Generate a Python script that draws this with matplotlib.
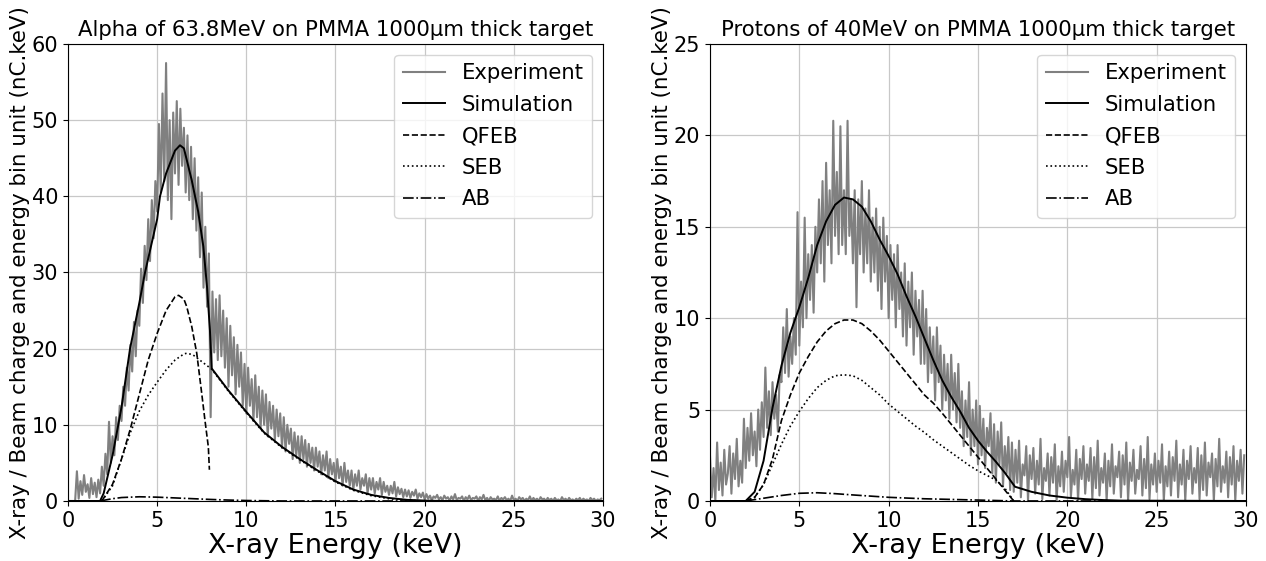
import numpy as np
import matplotlib
matplotlib.use("Agg")
import matplotlib.pyplot as plt

ALPHA_EXP = [
    0.0, 0.0, 0.0, 0.0, 0.0, 3.9, 0.3, 2.6, 0.8, 3.4,
    1.2, 2.2, 0.4, 3.0, 0.9, 2.4, 0.5, 2.8, 1.0, 4.5,
    2.0, 6.2, 3.5, 10.4, 5.0, 8.5, 6.0, 11.0, 8.0, 12.5,
    10.5, 15.0, 12.5, 17.5, 14.5, 20.5, 17.0, 23.5, 19.0, 25.0,
    23.0, 30.5, 26.0, 33.5, 29.0, 37.0, 31.5, 39.5, 34.5, 42.0,
    38.0, 49.5, 40.5, 53.5, 42.0, 57.5, 39.5, 50.0, 37.0, 51.0,
    43.0, 52.5, 41.5, 51.5, 44.0, 49.0, 40.5, 48.0, 39.5, 46.5,
    37.0, 45.0, 35.5, 42.5, 32.0, 40.5, 28.0, 36.0, 25.5, 32.5,
    11.0, 27.5, 19.5, 26.5, 18.5, 27.0, 19.0, 25.0, 17.5, 24.0,
    15.0, 23.0, 16.5, 21.5, 14.0, 20.5, 15.0, 19.5, 12.5, 18.0,
    11.5, 17.5, 12.5, 16.0, 10.5, 16.5, 11.0, 15.0, 9.5, 14.5,
    10.0, 14.0, 8.5, 13.0, 9.5, 12.5, 8.0, 12.0, 8.5, 11.5,
    7.0, 11.0, 6.5, 10.0, 7.5, 9.5, 5.5, 9.0, 6.0, 8.5,
    5.0, 8.5, 5.5, 8.0, 4.5, 7.5, 5.0, 7.0, 4.0, 7.0,
    4.5, 6.5, 3.5, 6.0, 4.0, 6.5, 3.0, 5.5, 3.5, 5.0,
    2.5, 5.5, 3.0, 4.5, 2.0, 5.0, 2.5, 4.0, 2.0, 4.0,
    1.5, 3.5, 2.0, 4.0, 1.5, 3.0, 2.0, 3.5, 1.0, 3.0,
    1.5, 3.0, 1.0, 2.5, 1.5, 3.0, 0.8, 2.5, 1.2, 2.0,
    0.8, 2.0, 1.0, 2.5, 0.6, 1.8, 0.9, 1.6, 0.5, 1.5,
    0.6, 1.4, 0.4, 1.2, 0.7, 1.5, 0.3, 1.0, 0.5, 1.1,
    0.2, 0.9, 0.3, 0.7, 0.1, 0.6, 0.4, 0.8, 0.2, 0.5,
    0.1, 0.7, 0.3, 0.5, 0.0, 0.6, 0.2, 0.9, 0.1, 0.4,
    0.3, 0.6, 0.0, 0.5, 0.2, 0.7, 0.1, 0.4, 0.3, 0.6,
    0.0, 0.5, 0.2, 0.8, 0.1, 0.4, 0.0, 0.5, 0.2, 0.3,
    0.1, 0.6, 0.0, 0.4, 0.2, 0.5, 0.1, 0.3, 0.0, 0.7,
    0.1, 0.3, 0.0, 0.5, 0.2, 0.4, 0.0, 0.3, 0.1, 0.6,
    0.0, 0.4, 0.1, 0.3, 0.0, 0.5, 0.2, 0.3, 0.0, 0.4,
    0.1, 0.3, 0.0, 0.4, 0.1, 0.2, 0.0, 0.5, 0.1, 0.3,
    0.0, 0.4, 0.1, 0.2, 0.0, 0.3, 0.1, 0.4, 0.0, 0.3,
    0.1, 0.2, 0.0, 0.4, 0.1, 0.3, 0.0, 0.2, 0.1, 0.3,
]
PROTON_EXP = [
    2.5, 0.2, 1.8, 0.0, 3.2, 0.6, 2.1, 0.3, 2.8, 0.9,
    1.5, 3.0, 0.4, 2.6, 1.2, 3.4, 0.8, 2.2, 1.0, 4.5,
    1.8, 4.0, 2.2, 4.8, 2.5, 3.8, 1.9, 5.0, 2.8, 5.4,
    3.5, 7.3, 4.0, 6.0, 3.6, 6.5, 4.5, 5.8, 3.8, 6.9,
    6.5, 9.5, 7.0, 10.5, 6.8, 9.0, 7.5, 10.0, 8.0, 15.8,
    8.5, 12.0, 9.5, 15.5, 10.0, 13.5, 11.0, 14.0, 10.3, 15.0,
    12.5, 16.5, 13.0, 17.5, 12.0, 18.5, 14.0, 17.0, 13.0, 20.8,
    14.5, 18.0, 13.5, 20.5, 14.0, 17.0, 13.5, 20.8, 14.5, 16.5,
    13.0, 17.0, 10.6, 16.5, 13.5, 17.5, 12.5, 16.0, 13.0, 17.0,
    12.0, 15.5, 12.5, 16.0, 11.5, 15.0, 10.5, 15.5, 12.0, 14.5,
    10.0, 14.0, 11.0, 13.5, 9.5, 14.0, 10.5, 12.5, 9.0, 13.0,
    8.5, 12.0, 9.5, 12.5, 8.0, 11.5, 9.0, 11.0, 7.5, 11.5,
    7.5, 10.5, 6.5, 9.5, 7.0, 9.0, 5.5, 9.5, 6.5, 8.5,
    5.0, 8.0, 5.5, 7.5, 4.5, 8.0, 5.0, 7.0, 4.3, 7.5,
    4.0, 6.0, 3.0, 5.5, 3.5, 6.5, 2.5, 5.0, 3.0, 5.5,
    2.0, 5.2, 2.5, 4.5, 1.8, 4.0, 3.0, 4.8, 1.5, 4.2,
    1.0, 3.8, 2.0, 4.3, 0.8, 3.0, 1.5, 3.5, 0.6, 3.2,
    0.5, 2.8, 1.0, 3.3, 0.2, 2.0, 1.4, 3.0, 0.0, 2.5,
    1.2, 2.9, 0.4, 2.2, 0.9, 3.4, 0.1, 1.8, 1.1, 2.6,
    0.3, 2.4, 1.0, 3.1, 0.0, 1.9, 0.8, 2.7, 0.5, 2.2,
    1.3, 3.5, 0.2, 1.7, 0.9, 2.8, 0.0, 2.3, 1.2, 3.0,
    0.4, 2.0, 1.1, 2.9, 0.1, 2.4, 0.7, 3.3, 0.3, 1.8,
    1.0, 2.6, 0.0, 2.2, 0.8, 3.1, 0.4, 1.9, 1.3, 2.7,
    0.2, 2.5, 0.9, 3.2, 0.0, 2.1, 1.1, 2.8, 0.4, 1.7,
    1.2, 3.0, 0.3, 2.3, 0.7, 3.5, 0.1, 2.0, 0.9, 2.6,
    0.5, 2.2, 1.0, 3.1, 0.0, 1.9, 0.8, 2.7, 0.3, 2.4,
    1.1, 3.3, 0.2, 2.0, 0.9, 2.8, 0.0, 2.2, 1.2, 3.0,
    0.4, 1.8, 1.0, 2.9, 0.1, 2.5, 0.6, 3.2, 0.3, 2.1,
    1.3, 2.6, 0.0, 2.3, 0.8, 3.4, 0.5, 1.9, 1.0, 2.7,
    0.2, 2.4, 0.9, 3.0, 0.0, 2.2, 1.1, 2.8, 0.4, 2.5,
]
EXP_E = np.arange(len(ALPHA_EXP)) * 0.1

# ---- alpha 63.8 MeV, model curves
A_SIM_E = [0, 1.8, 2.0, 2.5, 2.82, 3.0, 3.48, 4.0, 4.32, 5.0, 5.16, 5.5, 6.0, 6.28, 6.5,
           6.94, 7.3, 7.59, 7.8, 7.96, 8.06, 9, 10, 11, 12, 13, 14, 15, 16, 17, 18,
           19, 20, 21, 30]
A_SIM = [0, 0, 1.0, 6.0, 10.0, 12.3, 20.0, 26.0, 30.0, 37.0, 40.0, 43.0, 46.0, 46.7, 46.3,
         42.1, 38.0, 33.4, 28.0, 22.4, 17.4, 14.5, 11.7, 9.0, 7.1, 5.5, 4.0, 2.6, 1.5, 0.8, 0.4,
         0.15, 0.05, 0.0, 0.0]
A_QFEB_E = [1.9, 2.5, 3.0, 3.5, 4.0, 4.5, 5.0, 5.5, 6.0, 6.2, 6.5, 6.66, 6.94, 7.22, 7.5,
            7.68, 7.87, 7.93]
A_QFEB = [0, 2.2, 5.5, 9.5, 14.0, 18.5, 22.0, 25.0, 26.8, 27.0, 26.5, 25.5, 22.9, 19.4, 14.1,
          10.6, 7.1, 4.1]
A_SEB_E = [1.9, 2.5, 3.0, 3.5, 4.0, 4.5, 5.0, 5.5, 6.0, 6.5, 6.66, 7.0, 7.5, 8.06, 9, 10, 11,
           12, 13, 14, 15, 16, 17, 18, 19, 20]
A_SEB = [0, 2.0, 5.5, 9.0, 11.8, 13.9, 15.6, 17.2, 18.5, 19.3, 19.4, 19.2, 18.3, 17.3, 14.4,
         11.6, 8.9, 7.0, 5.4, 3.9, 2.5, 1.4, 0.7, 0.3, 0.1, 0.0]
A_AB_E = [1.8, 2.5, 3.0, 4.0, 5.0, 6.0, 7.0, 8.0, 9.0, 10.0, 12.0, 30.0]
A_AB = [0, 0.3, 0.45, 0.55, 0.5, 0.4, 0.3, 0.2, 0.12, 0.06, 0.0, 0.0]

# ---- protons 40 MeV, model curves
P_SIM_E = [0, 2.0, 2.5, 3.0, 3.5, 4.0, 4.5, 5.0, 5.5, 6.0, 6.5, 7.0, 7.5, 8.0, 8.5, 9.0, 9.5,
           10.0, 10.5, 11.0, 11.5, 12.0, 12.5, 13.0, 13.5, 14.0, 14.5, 15.0, 15.5, 16.0, 16.5,
           17.07, 18, 19, 20, 21, 22, 23, 30]
P_SIM = [0, 0, 0.5, 2.2, 5.1, 7.4, 9.2, 10.6, 12.2, 14.0, 15.3, 16.2, 16.6, 16.5, 16.1, 15.3,
         14.3, 13.4, 12.4, 11.2, 10.1, 8.9, 7.7, 6.6, 5.7, 4.9, 4.0, 3.3, 2.7, 2.15, 1.55,
         0.78, 0.5, 0.3, 0.18, 0.1, 0.05, 0.02, 0.0]
P_QFEB_E = [2.0, 2.5, 3.0, 3.5, 4.0, 4.5, 5.0, 5.5, 6.0, 6.5, 7.0, 7.5, 8.0, 8.5, 9.0, 9.5,
            10.0, 10.5, 11.0, 11.5, 12.0, 12.5, 13.0, 13.5, 14.0, 14.5, 15.0, 15.5, 16.0,
            16.5, 17.0]
P_QFEB = [0, 0.2, 0.9, 2.3, 4.4, 5.8, 7.0, 7.9, 8.7, 9.3, 9.7, 9.9, 9.9, 9.7, 9.3, 8.8,
          8.2, 7.6, 7.0, 6.4, 5.8, 5.35, 4.8, 4.2, 3.6, 3.0, 2.4, 1.8, 1.2, 0.6, 0.0]
P_SEB_E = [2.0, 2.5, 3.0, 3.5, 4.0, 4.5, 5.0, 5.5, 6.0, 6.5, 7.0, 7.5, 8.0, 8.5, 9.0, 9.5,
           10.0, 10.5, 11.0, 11.5, 12.0, 12.5, 13.0, 13.5, 14.0, 14.5, 15.0, 15.5, 16.0,
           16.5, 17.0]
P_SEB = [0, 0.2, 0.9, 2.0, 3.1, 4.1, 4.9, 5.6, 6.2, 6.6, 6.85, 6.9, 6.85, 6.6, 6.2, 5.8,
         5.3, 4.9, 4.5, 4.1, 3.75, 3.35, 3.0, 2.65, 2.3, 1.95, 1.65, 1.4, 1.15, 0.7, 0.0]
P_AB_E = [2.0, 3.0, 4.0, 5.0, 6.0, 7.0, 8.0, 10.0, 12.0, 15.0, 17.0, 30.0]
P_AB = [0, 0.15, 0.3, 0.42, 0.45, 0.4, 0.33, 0.2, 0.12, 0.05, 0.0, 0.0]

plt.rcParams.update({"font.family": "DejaVu Sans", "font.size": 15})
GRAY = "#808080"

fig = plt.figure(figsize=(12.66, 5.61), dpi=100)
ax1 = fig.add_axes([0.0537, 0.107, 0.4226, 0.8146])
ax2 = fig.add_axes([0.5608, 0.107, 0.4234, 0.8146])


def panel(ax, title, exp, sim, qfeb, seb, ab, ymax):
    ax.plot(EXP_E, exp, color=GRAY, lw=1.5, label="Experiment")
    ax.plot(*sim, color="black", lw=1.4, label="Simulation")
    ax.plot(*qfeb, color="black", lw=1.2, ls="--", label="QFEB")
    ax.plot(*seb, color="black", lw=1.2, ls=":", label="SEB")
    ax.plot(*ab, color="black", lw=1.2, ls="-.", label="AB")
    ax.set_xlim(0, 30)
    ax.set_ylim(0, ymax)
    ax.set_xticks(range(0, 31, 5))
    ax.grid(True, color="#c8c8c8", lw=0.9)
    ax.tick_params(labelsize=15)
    ax.set_title(title, fontsize=15.3)
    ax.set_xlabel("X-ray Energy (keV)", fontsize=19.5, labelpad=2)
    ax.set_ylabel("X-ray / Beam charge and energy bin unit (nC.keV)", fontsize=15.4, labelpad=1)
    ax.legend(loc="upper right", fontsize=15.2, labelspacing=0.55)


panel(ax1, "Alpha of 63.8MeV on PMMA 1000µm thick target", ALPHA_EXP,
      (A_SIM_E, A_SIM), (A_QFEB_E, A_QFEB), (A_SEB_E, A_SEB), (A_AB_E, A_AB), 60)
panel(ax2, "Protons of 40MeV on PMMA 1000µm thick target", PROTON_EXP,
      (P_SIM_E, P_SIM), (P_QFEB_E, P_QFEB), (P_SEB_E, P_SEB), (P_AB_E, P_AB), 25)

fig.savefig("out.png", dpi=100)
